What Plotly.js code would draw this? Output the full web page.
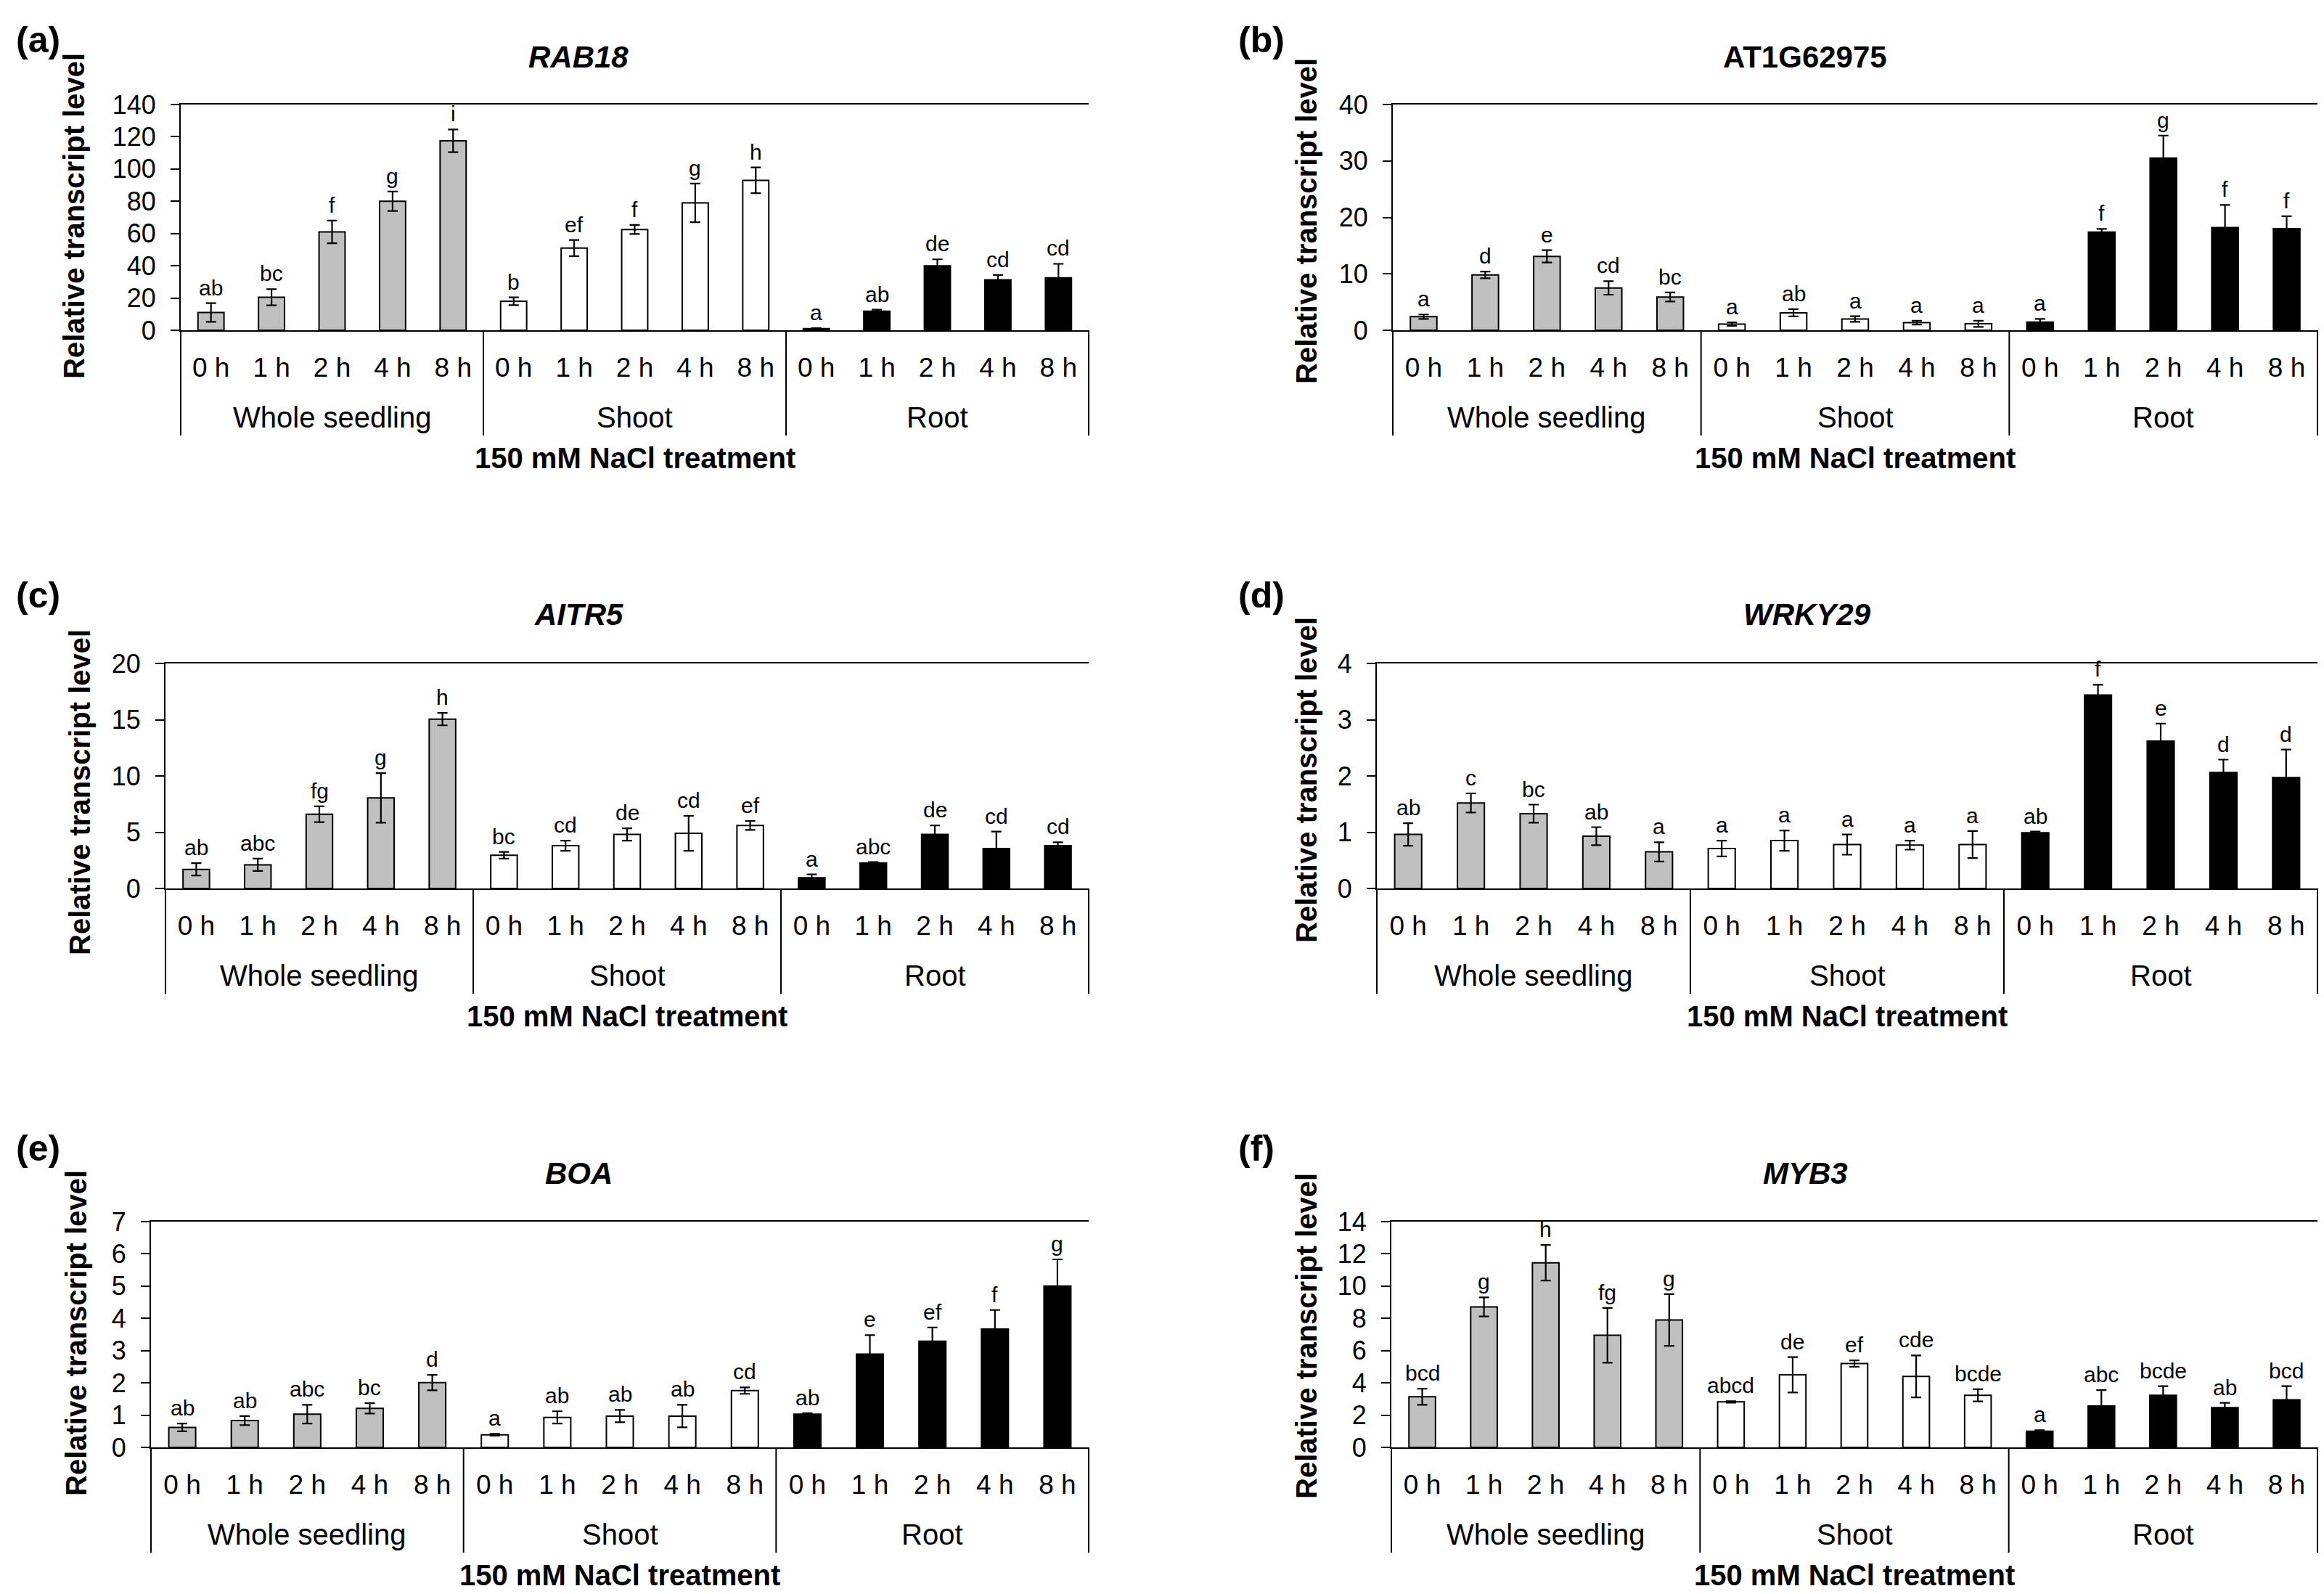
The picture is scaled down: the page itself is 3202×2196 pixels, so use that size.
<!DOCTYPE html>
<html><head><meta charset="utf-8">
<script src="https://cdn.plot.ly/plotly-3.0.1.min.js"></script>
<style>html,body{margin:0;padding:0;background:#fff}#chart{width:3202px;height:2196px}</style>
</head><body><div id="chart"></div>
<script>
// ---------- data ----------
const groups = ["Whole seedling", "Shoot", "Root"];
const times = ["0 h", "1 h", "2 h", "4 h", "8 h"];
const groupColors = ["#c0c0c0", "#ffffff", "#000000"];
const xGroupTitle = "150 mM NaCl treatment";
const yTitle = "Relative transcript level";

const panelLabels = ["(a)", "(b)", "(c)", "(d)", "(e)", "(f)"];
const geneNames = ["RAB18", "AT1G62975", "AITR5", "WRKY29", "BOA", "MYB3"];
const geneItalic = [true, false, true, true, true, true];
const yMax = [140, 40, 20, 4, 7, 14];
const yStep = [20, 10, 5, 1, 1, 2];

const rab18Mean = [11, 20.5, 61, 80, 117.5, 18, 51, 62.5, 79, 93, 1.0, 11.8, 40, 31.3, 32.5];
const rab18Err  = [5.8, 5, 7, 6, 7, 2.4, 5, 2.8, 12, 8, 0.3, 1, 4, 3, 8.7];
const rab18Sig  = ["ab","bc","f","g","i","b","ef","f","g","h","a","ab","de","cd","cd"];

const at1gMean = [2.4, 9.8, 13.1, 7.5, 5.9, 1.1, 3.1, 2.0, 1.35, 1.15, 1.45, 17.4, 30.5, 18.2, 18.0];
const at1gErr  = [0.4, 0.6, 1.1, 1.2, 0.8, 0.3, 0.65, 0.5, 0.35, 0.55, 0.55, 0.55, 4.0, 4.0, 2.2];
const at1gSig  = ["a","d","e","cd","bc","a","ab","a","a","a","a","f","g","f","f"];

const aitr5Mean = [1.7, 2.1, 6.6, 8.05, 15.05, 2.95, 3.8, 4.8, 4.9, 5.6, 0.95, 2.25, 4.8, 3.55, 3.8];
const aitr5Err  = [0.55, 0.55, 0.7, 2.2, 0.55, 0.3, 0.45, 0.55, 1.55, 0.4, 0.3, 0.1, 0.8, 1.5, 0.3];
const aitr5Sig  = ["ab","abc","fg","g","h","bc","cd","de","cd","ef","a","abc","de","cd","cd"];

const wrky29Mean = [0.96, 1.52, 1.33, 0.93, 0.65, 0.71, 0.85, 0.78, 0.77, 0.78, 0.99, 3.44, 2.62, 2.06, 1.97];
const wrky29Err  = [0.2, 0.17, 0.16, 0.16, 0.17, 0.14, 0.18, 0.18, 0.08, 0.24, 0.02, 0.18, 0.31, 0.23, 0.5];
const wrky29Sig  = ["ab","c","bc","ab","a","a","a","a","a","a","ab","f","e","d","d"];

const boaMean = [0.62, 0.83, 1.03, 1.21, 2.01, 0.39, 0.93, 0.97, 0.97, 1.76, 1.03, 2.89, 3.29, 3.67, 5.0];
const boaErr  = [0.12, 0.14, 0.29, 0.16, 0.24, 0.03, 0.19, 0.19, 0.35, 0.1, 0.03, 0.59, 0.43, 0.59, 0.83];
const boaSig  = ["ab","ab","abc","bc","d","a","ab","ab","ab","cd","ab","e","ef","f","g"];

const myb3Mean = [3.14, 8.71, 11.45, 6.95, 7.9, 2.82, 4.5, 5.2, 4.4, 3.23, 1.0, 2.57, 3.23, 2.47, 2.95];
const myb3Err  = [0.5, 0.59, 1.1, 1.7, 1.6, 0.05, 1.1, 0.2, 1.3, 0.38, 0.06, 0.98, 0.57, 0.29, 0.85];
const myb3Sig  = ["bcd","g","h","fg","g","abcd","de","ef","cde","bcde","a","abc","bcde","ab","bcd"];

const means = [rab18Mean, at1gMean, aitr5Mean, wrky29Mean, boaMean, myb3Mean];
const errs  = [rab18Err, at1gErr, aitr5Err, wrky29Err, boaErr, myb3Err];
const sigs  = [rab18Sig, at1gSig, aitr5Sig, wrky29Sig, boaSig, myb3Sig];

// ---------- layout geometry (pixels) ----------
const W = 3202, H = 2196;
const boxes = [[249,1500,144,455],[1919,3193,144,455],[228,1500,914,1224],[1897,3193,914,1224],[208,1500,1683,1994],[1917,3193,1683,1994]];
const yTitlePos = [[102,297],[1800,305],[110,1092],[1800,1075],[105,1836],[1800,1841]];
const genePos = [[797,78],[2487,78],[797,847],[2490,847],[797,1616],[2487,1616]];
const labelPos = [[20,55],[1704,55],[20,820],[1704,820],[20,1582],[1704,1582]];

const FONT = "Liberation Sans, Arial, Helvetica, sans-serif";
const cats = groups.flatMap(g => times.map(t => g + " " + t));
const tickText = groups.flatMap(() => times);
const barColors = groups.flatMap((g, gi) => times.map(() => groupColors[gi]));

const data = [];
const layout = {
  width: W, height: H, margin: {l:0, r:0, t:0, b:0},
  paper_bgcolor: "#fff", plot_bgcolor: "#fff",
  showlegend: false, bargap: 0.57,
  font: {family: FONT, color: "#000"},
  annotations: [], shapes: []
};

for (let p = 0; p < 6; p++) {
  const sfx = p === 0 ? "" : String(p + 1);
  const xa = "x" + sfx, ya = "y" + sfx;
  const [l, r, t, b] = boxes[p];
  const ph = b - t;
  data.push({
    type: "bar", x: cats, y: means[p], xaxis: xa, yaxis: ya,
    marker: {color: barColors, line: {color: "#000", width: 2}},
    error_y: {type: "data", array: errs[p], visible: true, color: "#000", thickness: 2.2, width: 7},
    hoverinfo: "skip"
  });
  layout["xaxis" + sfx] = {
    domain: [l / W, r / W], anchor: ya, type: "category",
    range: [-0.5, cats.length - 0.5],
    tickvals: cats, ticktext: tickText,
    ticks: "outside", ticklen: 18, tickcolor: "rgba(0,0,0,0)",
    tickfont: {family: FONT, size: 37, color: "#000"},
    showline: true, linecolor: "#000", linewidth: 2, mirror: true,
    showgrid: false, zeroline: false, fixedrange: true
  };
  layout["yaxis" + sfx] = {
    domain: [1 - b / H, 1 - t / H], anchor: xa,
    range: [0, yMax[p]], dtick: yStep[p], tick0: 0,
    ticks: "outside", ticklen: 12, tickwidth: 2, tickcolor: "#000",
    ticklabelstandoff: 13,
    tickfont: {family: FONT, size: 36, color: "#000"},
    showline: true, linecolor: "#000", linewidth: 2,
    showgrid: false, zeroline: false, fixedrange: true
  };
  // dividers below the axis
  for (let k = 0; k <= groups.length; k++) {
    layout.shapes.push({
      type: "line", xref: xa + " domain", yref: ya + " domain",
      x0: k / groups.length, x1: k / groups.length, y0: 0, y1: -145 / ph,
      line: {color: "#000", width: 2}
    });
  }
  // group labels
  groups.forEach((g, gi) => {
    layout.annotations.push({
      text: g, xref: xa, yref: ya + " domain",
      x: cats[gi * times.length + Math.floor(times.length / 2)], y: -120 / ph,
      xanchor: "center", yanchor: "middle", showarrow: false,
      font: {family: FONT, size: 40, color: "#000"}
    });
  });
  // treatment label
  layout.annotations.push({
    text: "<b>" + xGroupTitle + "</b>", xref: xa + " domain", yref: ya + " domain",
    x: 0.5, y: -176 / ph, xanchor: "center", yanchor: "middle", showarrow: false,
    font: {family: FONT, size: 40, color: "#000"}
  });
  // significance letters
  cats.forEach((c, i) => {
    layout.annotations.push({
      text: sigs[p][i], xref: xa, yref: ya, x: c, y: means[p][i] + errs[p][i],
      xanchor: "center", yanchor: "bottom", yshift: 3, showarrow: false,
      font: {family: FONT, size: 30, color: "#000"}
    });
  });
  // y title
  layout.annotations.push({
    text: "<b>" + yTitle + "</b>", xref: "paper", yref: "paper",
    x: yTitlePos[p][0] / W, y: 1 - yTitlePos[p][1] / H, textangle: -90,
    xanchor: "center", yanchor: "middle", showarrow: false,
    font: {family: FONT, size: 40, color: "#000"}
  });
  // gene title
  const gt = geneItalic[p] ? "<b><i>" + geneNames[p] + "</i></b>" : "<b>" + geneNames[p] + "</b>";
  layout.annotations.push({
    text: gt, xref: "paper", yref: "paper",
    x: genePos[p][0] / W, y: 1 - genePos[p][1] / H,
    xanchor: "center", yanchor: "middle", showarrow: false,
    font: {family: FONT, size: 42, color: "#000"}
  });
  // panel label
  layout.annotations.push({
    text: "<b>" + panelLabels[p] + "</b>", xref: "paper", yref: "paper",
    x: labelPos[p][0] / W, y: 1 - labelPos[p][1] / H,
    xanchor: "left", yanchor: "middle", showarrow: false,
    font: {family: FONT, size: 50, color: "#000"}
  });
}

Plotly.newPlot("chart", data, layout, {staticPlot: true, displayModeBar: false});
</script>
</body></html>
